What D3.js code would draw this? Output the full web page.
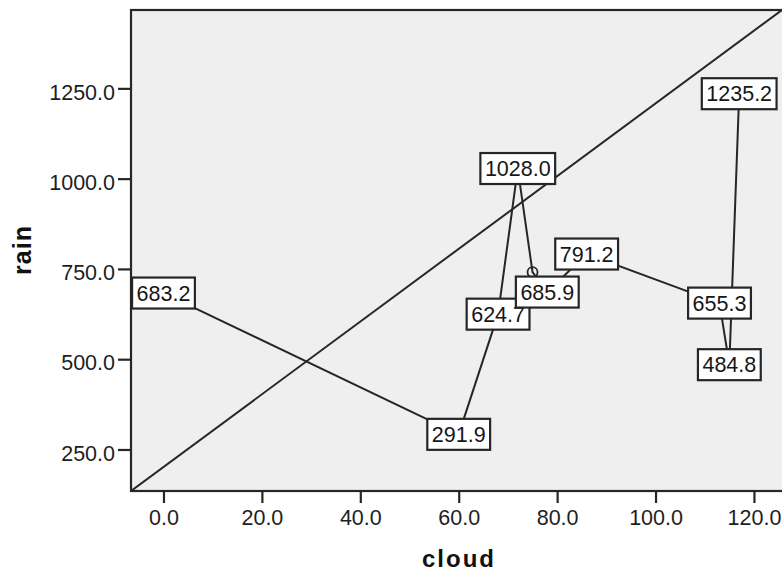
<!DOCTYPE html>
<html>
<head>
<meta charset="utf-8">
<script src="https://cdn.jsdelivr.net/npm/d3@7"></script>
<style>
  body { margin: 0; background: #fff; }
  svg { display: block; }
</style>
</head>
<body>
<svg id="chart" width="782" height="575"></svg>
<script>
// ---- data ----
const cloud  = [0, 60, 68, 72, 75, 78, 86, 113, 115, 117];
const rain   = [683.2, 291.9, 624.7, 1028.0, 741, 685.9, 791.2, 655.3, 484.8, 1235.2];
const labels = ["683.2", "291.9", "624.7", "1028.0", "", "685.9", "791.2", "655.3", "484.8", "1235.2"];
const xTicks = [0, 20, 40, 60, 80, 100, 120];
const yTicks = [250, 500, 750, 1000, 1250];
const xDomain = [-6.6, 125.7];
const yDomain = [135, 1467];
const refCloud = [-6.6, 125.7];
const refRain  = [135, 1467];

// ---- layout ----
const svg = d3.select("#chart");
const L = 131, R = 782, T = 10, B = 491;
const x = d3.scaleLinear().domain(xDomain).range([L, R]);
const y = d3.scaleLinear().domain(yDomain).range([B, T]);
const font = "'Liberation Sans', Arial, sans-serif";
const ink = "#262626";

// plot background
svg.append("rect").attr("x", L).attr("y", T).attr("width", 800 - L).attr("height", B - T)
  .attr("fill", "#efefef").attr("stroke", ink).attr("stroke-width", 2.2);

// clip
svg.append("clipPath").attr("id", "clip").append("rect")
  .attr("x", L).attr("y", T).attr("width", R - L).attr("height", B - T);

const plot = svg.append("g").attr("clip-path", "url(#clip)");

// reference diagonal
plot.append("line")
  .attr("x1", x(refCloud[0])).attr("y1", y(refRain[0]))
  .attr("x2", x(refCloud[1])).attr("y2", y(refRain[1]))
  .attr("stroke", ink).attr("stroke-width", 2);

// connecting path
const pts = cloud.map((c, i) => [c, rain[i]]);
plot.append("path")
  .datum(pts)
  .attr("fill", "none").attr("stroke", ink).attr("stroke-width", 2)
  .attr("d", d3.line().x(d => x(d[0])).y(d => y(d[1])));

// markers
plot.selectAll("circle.pt").data(pts).join("circle")
  .attr("class", "pt")
  .attr("cx", d => x(d[0])).attr("cy", d => y(d[1])).attr("r", 5)
  .attr("fill", "none").attr("stroke", ink).attr("stroke-width", 1.8);

// label boxes
const lab = plot.selectAll("g.lab").data(pts.map((d, i) => ({c: d[0], r: d[1], t: labels[i]})).filter(d => d.t))
  .join("g").attr("class", "lab")
  .attr("transform", d => `translate(${x(d.c)},${y(d.r)})`);
const rects = lab.append("rect");
const texts = lab.append("text")
  .attr("text-anchor", "middle").attr("dy", "0.36em")
  .attr("font-family", font).attr("font-size", 21.5).attr("fill", "#161616")
  .text(d => d.t);
texts.each(function(d) {
  d.w = this.getComputedTextLength() + 9;
});
rects.attr("x", d => -d.w / 2).attr("y", -15.5).attr("width", d => d.w).attr("height", 31)
  .attr("fill", "#fff").attr("stroke", ink).attr("stroke-width", 2.2);
// keep box inside plot left edge
lab.attr("transform", d => {
  let cx = x(d.c);
  if (cx - d.w / 2 < L) cx = L + d.w / 2;
  return `translate(${cx},${y(d.r)})`;
});

// axes
const fmt = d3.format(".1f");
const gx = svg.append("g").attr("transform", `translate(0,${B})`)
  .call(d3.axisBottom(x).tickValues(xTicks).tickFormat(fmt).tickSize(12).tickPadding(7));
const gy = svg.append("g").attr("transform", `translate(${L},0)`)
  .call(d3.axisLeft(y).tickValues(yTicks).tickFormat(fmt).tickSize(13).tickPadding(3));
[gx, gy].forEach(g => {
  g.select(".domain").remove();
  g.selectAll(".tick line").attr("stroke", ink).attr("stroke-width", 2.2);
  g.selectAll(".tick text").attr("font-family", font).attr("font-size", 21.5).attr("fill", "#1e1e1e");
});
gy.selectAll(".tick text").attr("dy", "0.5em");

// axis titles
svg.append("text").attr("x", 459).attr("y", 567).attr("text-anchor", "middle")
  .attr("font-family", font).attr("font-weight", "bold").attr("font-size", 24)
  .attr("letter-spacing", "2px").attr("fill", "#111").text("cloud");
svg.append("text").attr("transform", "translate(31,250) rotate(-90)").attr("text-anchor", "middle")
  .attr("font-family", font).attr("font-weight", "bold").attr("font-size", 25)
  .attr("letter-spacing", "1px").attr("fill", "#111").text("rain");
</script>
</body>
</html>
